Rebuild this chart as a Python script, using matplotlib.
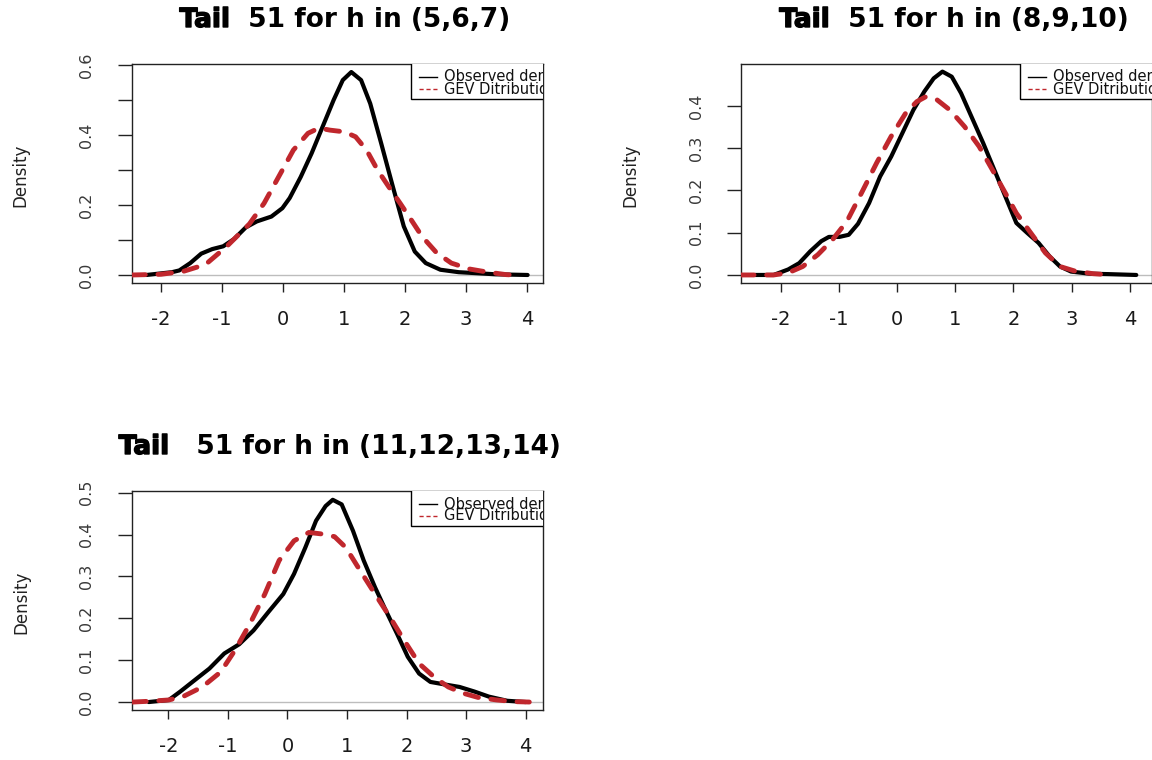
import matplotlib
matplotlib.use("Agg")
import matplotlib.pyplot as plt
import matplotlib.patheffects as pe
from matplotlib.patches import Rectangle
from matplotlib.ticker import FixedLocator

plt.rcParams["font.family"] = ["DejaVu Sans"]
plt.rcParams["axes.unicode_minus"] = False

# ---- data: kernel density of the observed tail vs fitted GEV density ----
title_lead = "Tail"
title_rest = ["  51 for h in (5,6,7)",
              "  51 for h in (8,9,10)",
              "   51 for h in (11,12,13,14)"]
legend_labels = ["Observed density", "GEV Ditribution"]
x_ticks = [-2, -1, 0, 1, 2, 3, 4]

obs_x_567 = [-2.24, -1.82, -1.70, -1.52, -1.34, -1.16, -0.98, -0.80, -0.61, -0.43,
             -0.19, -0.01, 0.11, 0.29, 0.47, 0.65, 0.83, 0.98, 1.12, 1.28, 1.43,
             1.61, 1.80, 1.98, 2.16, 2.34, 2.58, 2.88, 3.19, 3.48, 4.01]
obs_y_567 = [0.0, 0.008, 0.013, 0.034, 0.061, 0.074, 0.082, 0.103, 0.136, 0.153,
             0.167, 0.191, 0.220, 0.280, 0.348, 0.424, 0.500, 0.557, 0.580, 0.557, 0.490,
             0.376, 0.253, 0.139, 0.067, 0.034, 0.015, 0.008, 0.005, 0.002, 0.0]
gev_x_567 = [-2.48, -2.00, -1.64, -1.27, -0.92, -0.55, -0.31, -0.07, 0.17, 0.41,
             0.59, 0.77, 1.01, 1.19, 1.37, 1.55, 1.73, 1.92, 2.10, 2.28, 2.52,
             2.76, 3.06, 3.36, 3.66, 3.78]
gev_y_567 = [0.0, 0.002, 0.010, 0.030, 0.082, 0.146, 0.205, 0.281, 0.357, 0.405,
             0.420, 0.414, 0.409, 0.395, 0.357, 0.300, 0.253, 0.205, 0.158, 0.110, 0.063,
             0.034, 0.017, 0.008, 0.001, 0.0]

obs_x_8910 = [-2.44, -2.12, -1.87, -1.68, -1.49, -1.30, -1.17, -0.99, -0.83, -0.67,
              -0.48, -0.29, -0.10, 0.09, 0.28, 0.47, 0.63, 0.78, 0.94, 1.10, 1.29,
              1.48, 1.67, 1.86, 2.05, 2.24, 2.43, 2.62, 2.80, 2.99, 3.31, 3.63, 4.11]
obs_y_8910 = [0.0, 0.0, 0.013, 0.028, 0.056, 0.080, 0.090, 0.090, 0.095, 0.121,
              0.170, 0.233, 0.280, 0.335, 0.390, 0.434, 0.465, 0.481, 0.469, 0.430, 0.371,
              0.312, 0.249, 0.186, 0.123, 0.099, 0.076, 0.044, 0.020, 0.008, 0.003, 0.002, 0.0]
gev_x_8910 = [-2.69, -2.12, -1.87, -1.62, -1.36, -1.11, -0.86, -0.61, -0.35, -0.10,
              0.15, 0.34, 0.50, 0.69, 0.91, 1.16, 1.41, 1.67, 1.86, 2.05, 2.30,
              2.55, 2.80, 3.06, 3.37, 3.69]
gev_y_8910 = [0.0, 0.0, 0.005, 0.020, 0.048, 0.083, 0.127, 0.194, 0.265, 0.328,
              0.383, 0.410, 0.422, 0.414, 0.390, 0.351, 0.304, 0.241, 0.194, 0.146, 0.099,
              0.052, 0.020, 0.009, 0.003, 0.0]

obs_x_1114 = [-2.33, -1.99, -1.80, -1.56, -1.31, -1.06, -0.81, -0.57, -0.32, -0.07,
              0.11, 0.30, 0.48, 0.64, 0.76, 0.91, 1.10, 1.28, 1.47, 1.65, 1.84,
              2.02, 2.21, 2.40, 2.64, 2.89, 3.14, 3.38, 3.69, 4.00]
obs_y_1114 = [0.0, 0.005, 0.025, 0.052, 0.080, 0.116, 0.138, 0.171, 0.215, 0.258,
              0.306, 0.369, 0.433, 0.468, 0.483, 0.472, 0.409, 0.338, 0.274, 0.219, 0.163,
              0.108, 0.068, 0.048, 0.042, 0.036, 0.025, 0.013, 0.003, 0.0]
gev_x_1114 = [-2.60, -2.30, -1.99, -1.74, -1.43, -1.12, -0.88, -0.63, -0.38, -0.14,
              0.11, 0.36, 0.60, 0.79, 0.98, 1.22, 1.47, 1.72, 1.96, 2.21, 2.46,
              2.70, 2.95, 3.20, 3.51, 3.81, 4.06]
gev_y_1114 = [0.0, 0.002, 0.005, 0.014, 0.036, 0.072, 0.124, 0.187, 0.258, 0.338,
              0.385, 0.405, 0.401, 0.395, 0.369, 0.314, 0.258, 0.203, 0.147, 0.092, 0.060,
              0.036, 0.021, 0.011, 0.005, 0.001, 0.0]

y_ticks_567 = [0.0, 0.1, 0.2, 0.3, 0.4, 0.5, 0.6]
y_labels_567 = ["0.0", "", "0.2", "", "0.4", "", "0.6"]
y_ticks_8910 = [0.0, 0.1, 0.2, 0.3, 0.4]
y_labels_8910 = ["0.0", "0.1", "0.2", "0.3", "0.4"]
y_ticks_1114 = [0.0, 0.1, 0.2, 0.3, 0.4, 0.5]
y_labels_1114 = ["0.0", "0.1", "0.2", "0.3", "0.4", "0.5"]

# ---- layout (pixel geometry) ----
W, H = 1152, 760
fig = plt.figure(figsize=(W / 100, H / 100), dpi=100)
fig.patch.set_facecolor("white")

RED = "#c0272d"
TITLE_SIZE = 19

panels = [
    dict(rest=title_rest[0], box=(132, 64, 543, 283), xlim=(-2.475, 4.262), ylim=(-0.0229, 0.603),
         obs=(obs_x_567, obs_y_567), gev=(gev_x_567, gev_y_567),
         yt=y_ticks_567, yl=y_labels_567, title_c=(345, 20), ylab=(20, 175)),
    dict(rest=title_rest[1], box=(741, 64, 1152, 283), xlim=(-2.68, 4.38), ylim=(-0.019, 0.499),
         obs=(obs_x_8910, obs_y_8910), gev=(gev_x_8910, gev_y_8910),
         yt=y_ticks_8910, yl=y_labels_8910, title_c=(954, 20), ylab=(630, 175)),
    dict(rest=title_rest[2], box=(132, 491, 543, 710), xlim=(-2.61, 4.29), ylim=(-0.019, 0.504),
         obs=(obs_x_1114, obs_y_1114), gev=(gev_x_1114, gev_y_1114),
         yt=y_ticks_1114, yl=y_labels_1114, title_c=(340, 447), ylab=(21, 602)),
]

title_pairs = []
for p in panels:
    l, t, r, b = p["box"]
    ax = fig.add_axes([l / W, 1 - b / H, (r - l) / W, (b - t) / H])
    ax.set_xlim(*p["xlim"])
    ax.set_ylim(*p["ylim"])
    for s in ax.spines.values():
        s.set_linewidth(1.0)
        s.set_color("#222222")

    # zero reference line
    ax.axhline(0, color="#bdbdbd", lw=1.0, zorder=1)

    ax.plot(*p["obs"], color="black", lw=3.0, solid_joinstyle="round",
            solid_capstyle="round", zorder=3)
    ax.plot(*p["gev"], color=RED, lw=3.5, dashes=(2.8, 2.6),
            dash_capstyle="round", dash_joinstyle="round", zorder=4)

    ax.xaxis.set_major_locator(FixedLocator(x_ticks))
    ax.set_xticklabels([str(v) for v in x_ticks])
    ax.yaxis.set_major_locator(FixedLocator(p["yt"]))
    ax.set_yticklabels(p["yl"])
    ax.tick_params(axis="x", length=6.5, width=1.0, pad=13, labelsize=14,
                   labelcolor="#1a1a1a", color="#222222")
    ax.tick_params(axis="y", length=10, width=1.0, pad=17, labelsize=11.5,
                   labelcolor="#3a3a3a", color="#222222", labelrotation=90)
    for lab in ax.get_yticklabels():
        lab.set_va("center")
        lab.set_ha("right")

    # legend box, clipped at the plot's right edge
    pw, ph = (r - l), (b - t)
    lx0 = 1 - 132 / pw
    ly0 = 1 - 35 / ph
    ax.add_patch(Rectangle((lx0, ly0), 0.6, 0.6, transform=ax.transAxes,
                           fill=True, facecolor="white", edgecolor="black", lw=1.0,
                           clip_on=True, zorder=6))
    for i, (lab, col) in enumerate(zip(legend_labels, ["black", RED])):
        yy = 1 - (13 + 12 * i) / ph
        ln, = ax.plot([lx0 + 8 / pw, lx0 + 26 / pw], [yy, yy], transform=ax.transAxes,
                      color=col, lw=1.0, clip_on=True, zorder=7)
        if i == 1:
            ln.set_dashes((3, 2))
        ax.text(lx0 + 33 / pw, yy, lab, transform=ax.transAxes, fontsize=10.5,
                va="center", ha="left", color="#111111", clip_on=True, zorder=7)

    fig.text(p["ylab"][0] / W, 1 - p["ylab"][1] / H, "Density", rotation=90,
             fontsize=12, ha="center", va="center", color="#222222")

    y_title = 1 - p["title_c"][1] / H
    head = fig.text(0, y_title, title_lead, fontsize=TITLE_SIZE, fontweight="bold",
                    ha="left", va="center", color="black",
                    path_effects=[pe.withStroke(linewidth=1.0, foreground="black")])
    rest = fig.text(0, y_title, p["rest"], fontsize=TITLE_SIZE, fontweight="bold",
                    ha="left", va="center", color="black")
    title_pairs.append((head, rest, p["title_c"][0]))

# centre each title (heavy lead word + bold remainder) over its panel
fig.canvas.draw()
renderer = fig.canvas.get_renderer()
for head, rest, cx in title_pairs:
    w1 = head.get_window_extent(renderer).width
    w2 = rest.get_window_extent(renderer).width
    x0 = cx - (w1 + w2) / 2
    head.set_x(x0 / W)
    rest.set_x((x0 + w1) / W)

fig.savefig("out.png", dpi=100, facecolor="white")
